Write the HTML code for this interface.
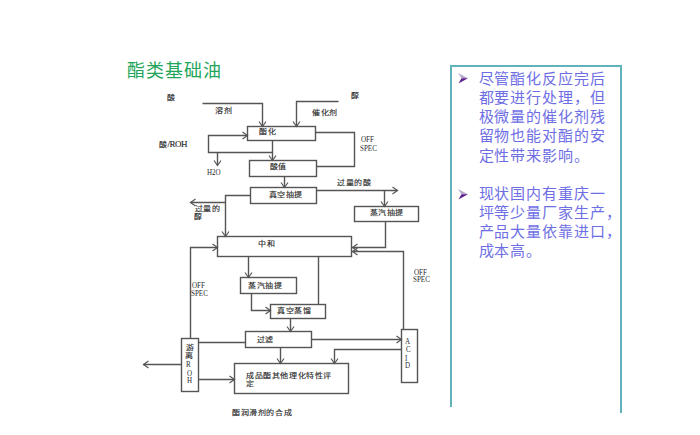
<!DOCTYPE html><html lang="zh-CN"><head><meta charset="utf-8"><style>
html,body{margin:0;padding:0;background:#fff;width:700px;height:435px;overflow:hidden}
.l{position:absolute;white-space:nowrap;line-height:1;margin:0}
.d{font-family:'Liberation Sans',sans-serif}.t{font-family:'Liberation Sans',sans-serif}.m{font-family:'Liberation Serif',serif}
svg{position:absolute;left:0;top:0}
</style></head><body>
<svg width="700" height="435" viewBox="0 0 700 435"><g fill="none" stroke="#555555" stroke-width="1.4"><rect x="247.5" y="126.5" width="68" height="14"/><rect x="249.5" y="160.5" width="67" height="16"/><rect x="250.5" y="187.5" width="66" height="16"/><rect x="354.5" y="206.5" width="64" height="15"/><rect x="217.5" y="236.5" width="134" height="20"/><rect x="240.5" y="277.5" width="56" height="16"/><rect x="270.5" y="304.5" width="55" height="14"/><rect x="245.5" y="331.5" width="66" height="16"/><rect x="181.5" y="338.5" width="17" height="53"/><rect x="234.5" y="363.5" width="114" height="30"/><rect x="401.5" y="329.5" width="16" height="53"/><polyline points="202.5,103.5 262.5,103.5 262.5,126.5"/><polyline points="338.5,101.5 296.5,101.5 296.5,126.5"/><polyline points="272.5,152.5 208.5,152.5 208.5,135.5 247.5,135.5"/><polyline points="272.5,140.5 272.5,160.5"/><polyline points="217.5,152.5 217.5,165.5"/><polyline points="315.5,132.5 354.5,132.5 354.5,166.5 316.5,166.5"/><polyline points="284.5,176.5 284.5,187.5"/><polyline points="316.5,190.5 397.5,190.5"/><polyline points="384.5,190.5 384.5,206.5"/><polyline points="250.5,195.5 225.5,195.5 225.5,236.5"/><polyline points="225.5,202.5 190.5,202.5"/><polyline points="385.5,221.5 385.5,247.5 352.5,247.5"/><polyline points="403.5,329.5 403.5,251.5 352.5,251.5"/><polyline points="190.5,338.5 190.5,247.5 217.5,247.5"/><polyline points="248.5,256.5 248.5,277.5"/><polyline points="318.5,256.5 318.5,304.5"/><polyline points="251.5,293.5 251.5,310.5 270.5,310.5"/><polyline points="290.5,318.5 290.5,331.5"/><polyline points="198.5,342.5 245.5,342.5"/><polyline points="311.5,339.5 401.5,339.5"/><polyline points="401.5,349.5 334.5,349.5 334.5,363.5"/><polyline points="280.5,347.5 280.5,363.5"/><polyline points="198.5,379.5 234.5,379.5"/><polyline points="181.5,364.5 143.5,364.5"/></g><g fill="none" stroke="#555555" stroke-width="1.15"><polyline points="259.0,121.5 262.5,126.5 266.0,121.5"/><polyline points="293.0,121.5 296.5,126.5 300.0,121.5"/><polyline points="242.5,139.0 247.5,135.5 242.5,132.0"/><polyline points="269.0,155.5 272.5,160.5 276.0,155.5"/><polyline points="214.0,160.5 217.5,165.5 221.0,160.5"/><polyline points="281.0,182.5 284.5,187.5 288.0,182.5"/><polyline points="392.5,194.0 397.5,190.5 392.5,187.0"/><polyline points="381.0,201.5 384.5,206.5 388.0,201.5"/><polyline points="222.0,231.5 225.5,236.5 229.0,231.5"/><polyline points="195.5,199.0 190.5,202.5 195.5,206.0"/><polyline points="357.5,244.0 352.5,247.5 357.5,251.0"/><polyline points="357.5,248.0 352.5,251.5 357.5,255.0"/><polyline points="212.5,251.0 217.5,247.5 212.5,244.0"/><polyline points="245.0,272.5 248.5,277.5 252.0,272.5"/><polyline points="265.5,314.0 270.5,310.5 265.5,307.0"/><polyline points="287.0,326.5 290.5,331.5 294.0,326.5"/><polyline points="396.5,343.0 401.5,339.5 396.5,336.0"/><polyline points="331.0,358.5 334.5,363.5 338.0,358.5"/><polyline points="277.0,358.5 280.5,363.5 284.0,358.5"/><polyline points="229.5,383.0 234.5,379.5 229.5,376.0"/><polyline points="148.5,361.0 143.5,364.5 148.5,368.0"/></g>
<g fill="none" stroke="#62b2bc" stroke-width="2" shape-rendering="crispEdges"><polyline points="451,407 451,66 621,66 621,413"/></g>
<polygon points="458,73 468,78.3 461.5,78.3" fill="#b4aacb"/><polygon points="461.5,78.3 468,78.3 458.5,83.5" fill="#5c1f8e"/>
<polygon points="458,189 468,194.3 461.5,194.3" fill="#b4aacb"/><polygon points="461.5,194.3 468,194.3 458.5,199.5" fill="#5c1f8e"/>
</svg>
<div class="l t" style="left:127.0px;top:62.3px;font-size:18px;color:#22a55a;letter-spacing:1px">酯类基础油</div>
<div class="l d" style="left:167.0px;top:95.0px;font-size:8px;color:#2a2a2a;letter-spacing:0.6px;transform:scaleY(0.88);transform-origin:0 0;-webkit-text-stroke:0.15px">酸</div>
<div class="l d" style="left:215.0px;top:108.0px;font-size:8px;color:#2a2a2a;letter-spacing:0.6px;transform:scaleY(0.88);transform-origin:0 0;-webkit-text-stroke:0.15px">溶剂</div>
<div class="l d" style="left:312.0px;top:109.6px;font-size:8px;color:#2a2a2a;letter-spacing:0.6px;transform:scaleY(0.88);transform-origin:0 0;-webkit-text-stroke:0.15px">催化剂</div>
<div class="l d" style="left:351.0px;top:92.7px;font-size:8px;color:#2a2a2a;letter-spacing:0.6px;transform:scaleY(0.88);transform-origin:0 0;-webkit-text-stroke:0.15px">醇</div>
<div class="l d" style="left:259.0px;top:129.0px;font-size:8px;color:#2a2a2a;letter-spacing:0.6px;transform:scaleY(0.88);transform-origin:0 0;-webkit-text-stroke:0.15px">酯化</div>
<div class="l d" style="left:159.0px;top:141.4px;font-size:8px;color:#2a2a2a;letter-spacing:0.6px;transform:scaleY(0.88);transform-origin:0 0;-webkit-text-stroke:0.15px">酸<span style="font-family:'Liberation Serif',serif;font-size:9px;letter-spacing:-0.5px">/ROH</span></div>
<div class="l m" style="left:207.0px;top:169.3px;font-size:8px;color:#2a2a2a;transform:scaleX(0.88);transform-origin:0 0">H2O</div>
<div class="l m" style="left:360.7px;top:136.4px;font-size:8px;color:#2a2a2a;transform:scaleX(0.88);transform-origin:0 0">OFF</div>
<div class="l m" style="left:359.7px;top:144.6px;font-size:8px;color:#2a2a2a;transform:scaleX(0.88);transform-origin:0 0">SPEC</div>
<div class="l d" style="left:269.6px;top:164.0px;font-size:8px;color:#2a2a2a;letter-spacing:0.6px;transform:scaleY(0.88);transform-origin:0 0;-webkit-text-stroke:0.15px">酸值</div>
<div class="l d" style="left:268.6px;top:192.0px;font-size:8px;color:#2a2a2a;letter-spacing:0.6px;transform:scaleY(0.88);transform-origin:0 0;-webkit-text-stroke:0.15px">真空抽提</div>
<div class="l d" style="left:337.0px;top:179.6px;font-size:8px;color:#2a2a2a;letter-spacing:0.6px;transform:scaleY(0.88);transform-origin:0 0;-webkit-text-stroke:0.15px">过量的酸</div>
<div class="l d" style="left:369.7px;top:209.6px;font-size:8px;color:#2a2a2a;letter-spacing:0.6px;transform:scaleY(0.88);transform-origin:0 0;-webkit-text-stroke:0.15px">蒸汽抽提</div>
<div class="l d" style="left:194.6px;top:205.6px;font-size:8px;color:#2a2a2a;letter-spacing:0.6px;transform:scaleY(0.88);transform-origin:0 0;-webkit-text-stroke:0.15px">过量的</div>
<div class="l d" style="left:194.3px;top:213.6px;font-size:8px;color:#2a2a2a;letter-spacing:0.6px;transform:scaleY(0.88);transform-origin:0 0;-webkit-text-stroke:0.15px">醇</div>
<div class="l d" style="left:258.3px;top:241.0px;font-size:8px;color:#2a2a2a;letter-spacing:0.6px;transform:scaleY(0.88);transform-origin:0 0;-webkit-text-stroke:0.15px">中和</div>
<div class="l m" style="left:192.0px;top:281.7px;font-size:8px;color:#2a2a2a;transform:scaleX(0.88);transform-origin:0 0">OFF</div>
<div class="l m" style="left:191.0px;top:289.7px;font-size:8px;color:#2a2a2a;transform:scaleX(0.88);transform-origin:0 0">SPEC</div>
<div class="l m" style="left:414.3px;top:268.6px;font-size:8px;color:#2a2a2a;transform:scaleX(0.88);transform-origin:0 0">OFF</div>
<div class="l m" style="left:413.3px;top:276.4px;font-size:8px;color:#2a2a2a;transform:scaleX(0.88);transform-origin:0 0">SPEC</div>
<div class="l d" style="left:248.3px;top:283.1px;font-size:8px;color:#2a2a2a;letter-spacing:0.6px;transform:scaleY(0.88);transform-origin:0 0;-webkit-text-stroke:0.15px">蒸汽抽提</div>
<div class="l d" style="left:277.0px;top:308.0px;font-size:8px;color:#2a2a2a;letter-spacing:0.6px;transform:scaleY(0.88);transform-origin:0 0;-webkit-text-stroke:0.15px">真空蒸馏</div>
<div class="l d" style="left:256.7px;top:336.7px;font-size:8px;color:#2a2a2a;letter-spacing:0.6px;transform:scaleY(0.88);transform-origin:0 0;-webkit-text-stroke:0.15px">过滤</div>
<div class="l d" style="left:186.0px;top:344.6px;font-size:8px;color:#2a2a2a;letter-spacing:0.6px;transform:scaleY(0.88);transform-origin:0 0;-webkit-text-stroke:0.15px">游</div>
<div class="l d" style="left:185.0px;top:353.0px;font-size:8px;color:#2a2a2a;letter-spacing:0.6px;transform:scaleY(0.88);transform-origin:0 0;-webkit-text-stroke:0.15px">离</div>
<div class="l m" style="left:186.0px;top:361.4px;font-size:8px;color:#2a2a2a;transform:scaleX(0.88);transform-origin:0 0">R</div>
<div class="l m" style="left:187.0px;top:369.6px;font-size:8px;color:#2a2a2a;transform:scaleX(0.88);transform-origin:0 0">O</div>
<div class="l m" style="left:187.0px;top:377.0px;font-size:8px;color:#2a2a2a;transform:scaleX(0.88);transform-origin:0 0">H</div>
<div class="l m" style="left:404.5px;top:338.0px;font-size:8px;color:#2a2a2a;transform:scaleX(0.88);transform-origin:0 0">A</div>
<div class="l m" style="left:405.5px;top:346.0px;font-size:8px;color:#2a2a2a;transform:scaleX(0.88);transform-origin:0 0">C</div>
<div class="l m" style="left:404.5px;top:355.0px;font-size:8px;color:#2a2a2a;transform:scaleX(0.88);transform-origin:0 0">I</div>
<div class="l m" style="left:404.5px;top:362.0px;font-size:8px;color:#2a2a2a;transform:scaleX(0.88);transform-origin:0 0">D</div>
<div class="l d" style="left:246.0px;top:372.7px;font-size:8px;color:#2a2a2a;letter-spacing:0.6px;transform:scaleY(0.88);transform-origin:0 0;-webkit-text-stroke:0.15px">成品酯其他理化特性评</div>
<div class="l d" style="left:246.0px;top:381.3px;font-size:8px;color:#2a2a2a;letter-spacing:0.6px;transform:scaleY(0.88);transform-origin:0 0;-webkit-text-stroke:0.15px">定</div>
<div class="l d" style="left:232.0px;top:409.6px;font-size:8px;color:#2a2a2a;letter-spacing:0.6px;transform:scaleY(0.88);transform-origin:0 0;-webkit-text-stroke:0.15px">酯润滑剂的合成</div>
<div class="l d" style="left:478.5px;top:71.0px;font-size:15px;color:#6e6ee4;letter-spacing:0.95px">尽管酯化反应完后</div>
<div class="l d" style="left:478.5px;top:90.1px;font-size:15px;color:#6e6ee4;letter-spacing:0.95px">都要进行处理，但</div>
<div class="l d" style="left:478.5px;top:109.2px;font-size:15px;color:#6e6ee4;letter-spacing:0.95px">极微量的催化剂残</div>
<div class="l d" style="left:478.5px;top:128.4px;font-size:15px;color:#6e6ee4;letter-spacing:0.95px">留物也能对酯的安</div>
<div class="l d" style="left:478.5px;top:147.5px;font-size:15px;color:#6e6ee4;letter-spacing:0.95px">定性带来影响。</div>
<div class="l d" style="left:478.5px;top:185.7px;font-size:15px;color:#6e6ee4;letter-spacing:0.95px">现状国内有重庆一</div>
<div class="l d" style="left:478.5px;top:204.8px;font-size:15px;color:#6e6ee4;letter-spacing:0.95px">坪等少量厂家生产，</div>
<div class="l d" style="left:478.5px;top:224.0px;font-size:15px;color:#6e6ee4;letter-spacing:0.95px">产品大量依靠进口，</div>
<div class="l d" style="left:478.5px;top:243.1px;font-size:15px;color:#6e6ee4;letter-spacing:0.95px">成本高。</div>
</body></html>
